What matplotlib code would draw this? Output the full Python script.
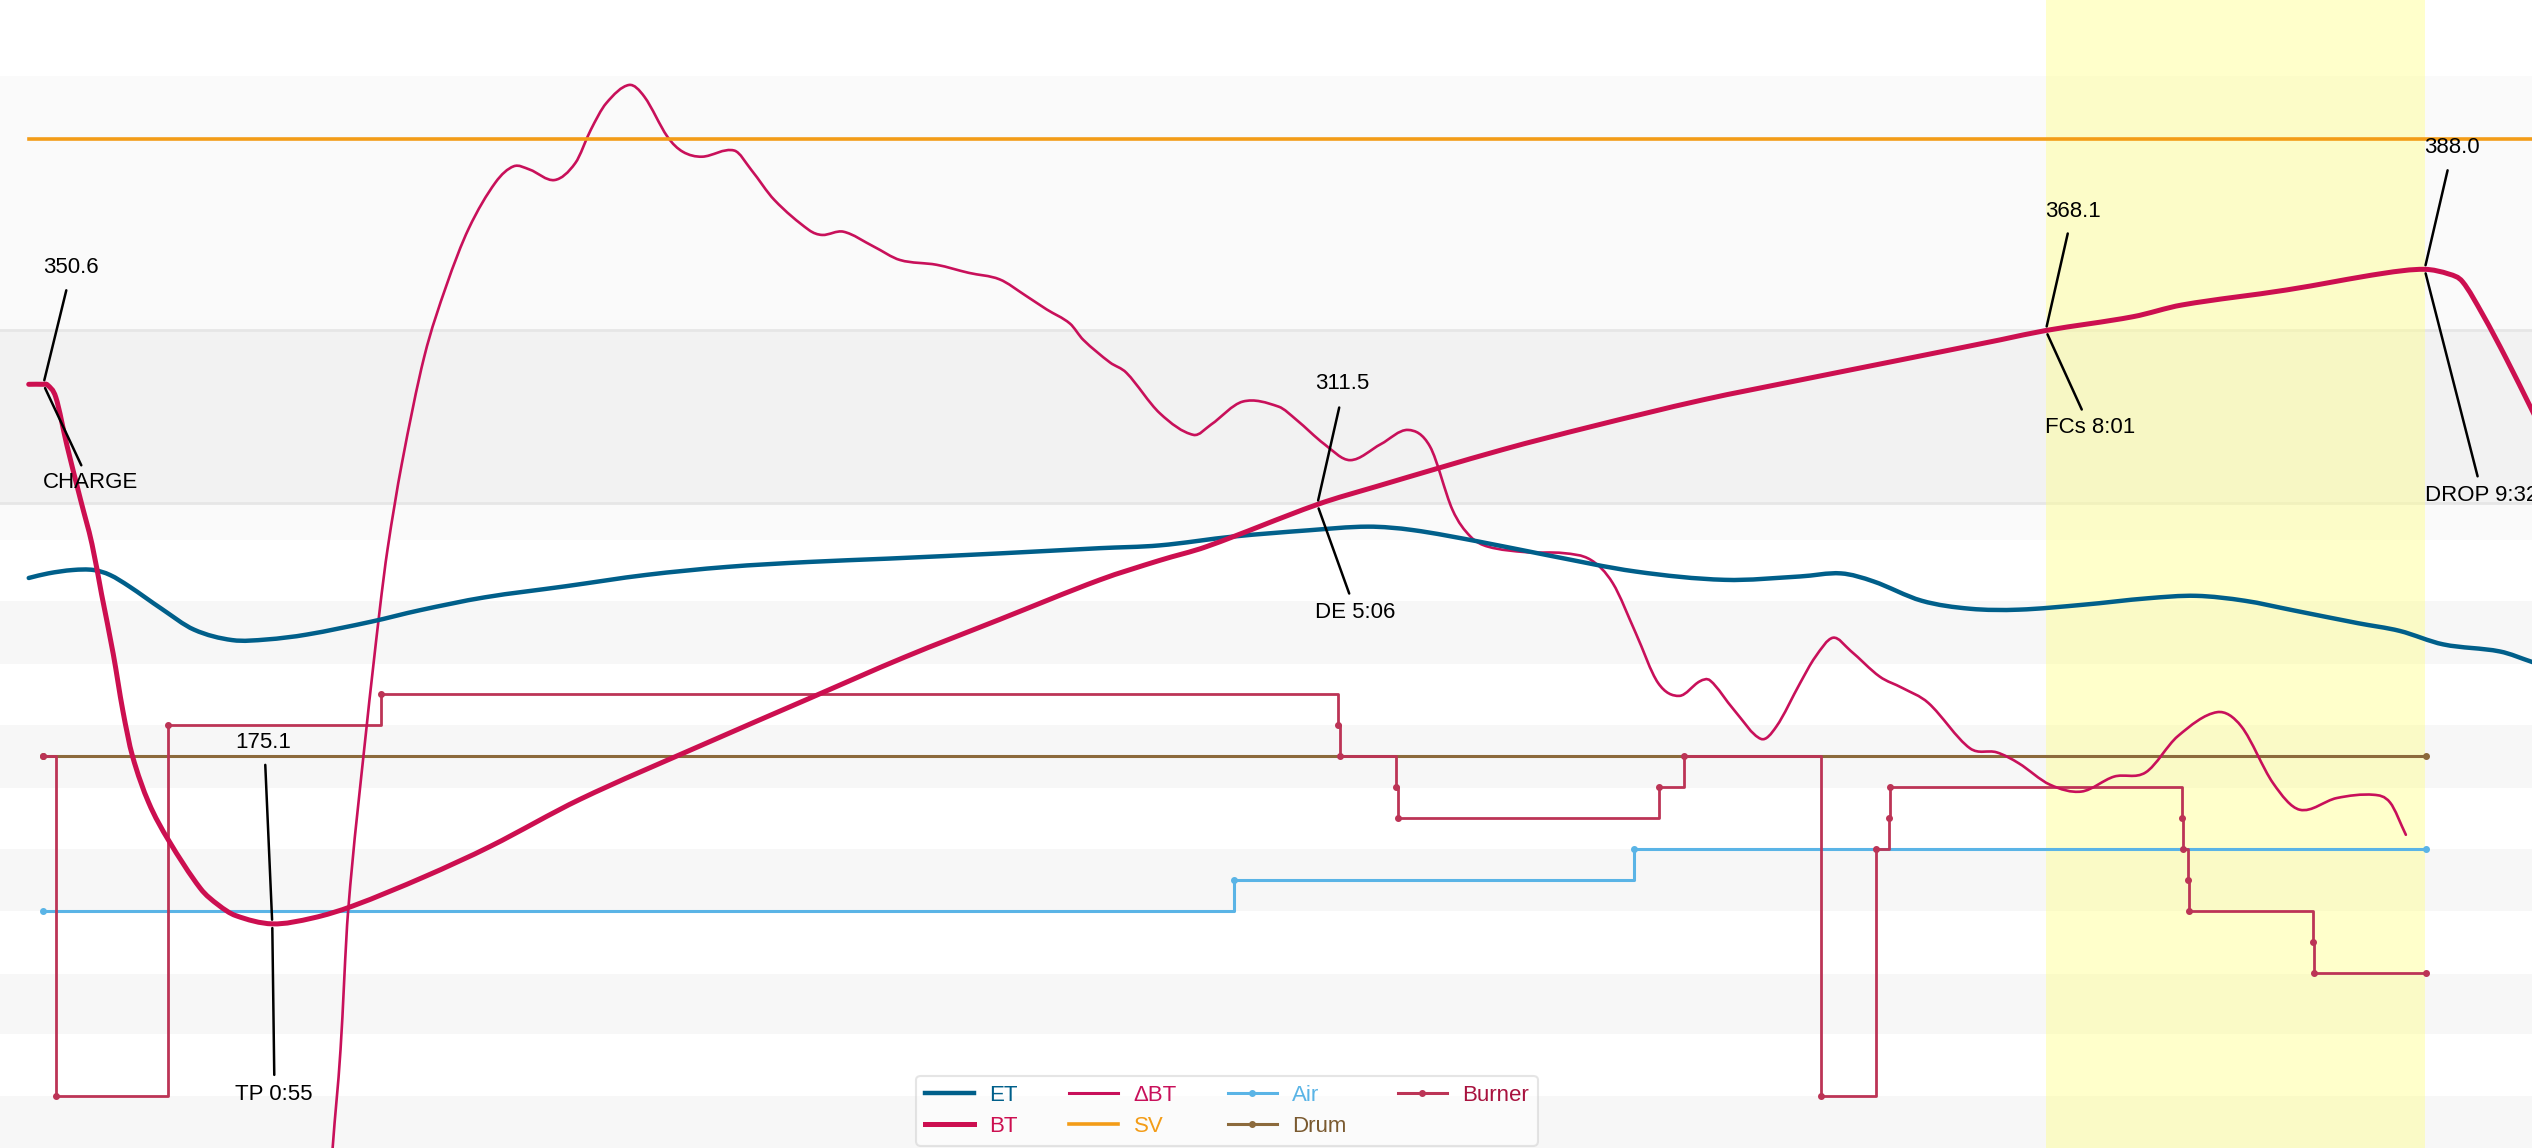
import matplotlib
matplotlib.use("Agg")
import matplotlib.pyplot as plt
from matplotlib.lines import Line2D
from matplotlib.path import Path
from matplotlib.patches import PathPatch

plt.rcParams['font.family'] = ['Liberation Sans', 'DejaVu Sans']

# ---------------- data ----------------
bt_time = [-3.5, 0, 1, 3, 5.7, 9, 11.7, 14, 16.8, 19.1, 21.4, 25.3, 30, 37.7, 42, 46.2, 55,
           64.7, 74.3, 91.5, 107.5, 128.9, 157.6, 183.6, 206.8, 229.7, 253.8, 268.1, 279.4,
           306, 320.3, 350.4, 371.7, 398.5, 422, 446, 470.2, 481, 502, 513.7, 538.9, 562.1,
           572, 578, 581.1, 586, 591.6, 597.8, 603]
bt_temp = [350.6, 350.6, 350.4, 346.4, 330.6, 312.8, 298.6, 282.3, 262.9, 244.5, 229.8, 214.6,
           202.5, 186.7, 181.3, 177.8, 175.1, 177.0, 180.9, 190.4, 200.4, 215.6, 232.9, 248.2,
           261.8, 274.1, 287.0, 293.3, 297.8, 311.5, 317.4, 329.3, 336.8, 345.5, 352.0, 358.5,
           365.1, 368.1, 372.6, 376.4, 381.3, 386.7, 388.0, 386.4, 384.0, 373.2, 359.0, 342.2,
           328.0]

et_time = [-3.5, 1.2, 7.1, 12.1, 16.0, 20.6, 28.4, 36.2, 45.4, 53.6, 63.3, 78.8, 90.4, 106.0,
           125.4, 144.8, 164.2, 183.6, 202.9, 229.7, 253.8, 268.1, 286.0, 303.8, 318.2, 328.9,
           345.0, 361.0, 382.5, 403.9, 422.0, 431.8, 439.6, 451.2, 462.8, 474.5, 490.0, 505.5,
           517.1, 528.8, 540.4, 556.0, 566.0, 576.5, 590.1, 597.8, 603]
et_temp = [287.6, 289.1, 290.2, 290.2, 288.6, 284.9, 277.6, 270.8, 267.4, 267.6, 269.2, 273.4,
           277.1, 281.3, 284.9, 288.6, 291.2, 292.8, 293.9, 295.6, 297.3, 298.2, 301.1, 303.1,
           304.3, 303.2, 299.4, 295.1, 289.7, 287.0, 288.1, 289.1, 286.5, 280.2, 277.6, 277.3,
           278.9, 281.0, 281.8, 280.2, 277.1, 272.9, 270.4, 266.0, 263.7, 260.3, 258.0]

ror_time = [68.3, 69.5, 71.4, 73.2, 77.5, 80.8, 82.7, 86.1, 91.5, 96.8, 102.2, 108.6, 113.0,
            116.8, 122.8, 127.8, 131.5, 135.2, 140.7, 144.4, 149.9, 153.6, 158.2, 166.0, 170.1,
            175.6, 183.9, 187.1, 192.2, 199.5, 205.8, 214.6, 222.3, 229.7, 235.9, 241.0, 246.6,
            249.8, 256.2, 260.2, 268.2, 276.3, 280.5, 288.1, 296.7, 301.0, 307.7, 313.9, 321.3,
            327.8, 333.1, 338.5, 342.8, 347.0, 356.2, 365.2, 371.7, 377.0, 382.5, 387.9, 393.0,
            397.9, 400.4, 406.1, 412.6, 416.3, 422.0, 425.6, 429.9, 434.1, 441.1, 446.5, 452.8,
            462.8, 469.2, 474.5, 482.0, 489.6, 497.4, 505.0, 512.7, 522.2, 528.0, 535.6, 542.0,
            550.9, 559.8, 563.7, 567.5]
ror_val = [-4.1, 0.0, 5.15, 12.32, 21.69, 28.10, 31.31, 35.74, 41.35, 45.06, 48.06, 50.46, 51.31,
           51.14, 50.59, 51.48, 53.21, 54.60, 55.56, 54.94, 52.86, 52.07, 51.81, 52.13, 51.11,
           49.55, 47.98, 47.72, 47.89, 47.11, 46.41, 46.16, 45.74, 45.40, 44.56, 43.83, 43.09,
           42.24, 41.06, 40.51, 38.40, 37.27, 37.81, 39.01, 38.75, 38.06, 36.79, 35.95, 36.79,
           37.53, 36.66, 33.35, 31.96, 31.43, 31.14, 31.09, 30.74, 29.52, 26.92, 24.30, 23.63,
           24.39, 24.43, 22.90, 21.38, 22.03, 24.30, 25.65, 26.67, 25.99, 24.64, 24.05, 23.26,
           20.89, 20.68, 20.11, 18.99, 18.63, 19.41, 19.63, 21.52, 22.78, 22.03, 19.07, 17.68,
           18.29, 18.46, 18.06, 16.37]

sv_time = [-3.5, 603]
sv_temp = [430.4, 430.4]

burner_time = [0, 3, 30, 81, 311, 311.5, 325, 325.5, 388, 394, 427, 440.3, 443.4, 443.6,
               513.7, 514, 515.2, 515.5, 545.1, 545.4, 572.3]
burner_val = [55, 0, 60, 65, 60, 55, 50, 45, 50, 55, 0, 40, 45, 50, 45, 40, 35, 30, 25, 20, 20]

air_time = [0, 286, 382.2, 572.3]
air_val = [30, 35, 40, 40]

drum_time = [0, 572.3]
drum_val = [55, 55]

event_time = [0, 55, 306, 481, 572]
event_temp = [350.6, 175.1, 311.5, 368.1, 388.0]
event_label = ['CHARGE', 'TP 0:55', 'DE 5:06', 'FCs 8:01', 'DROP 9:32']

legend_labels = ['ET', 'BT', 'ΔBT', 'SV', 'Air', 'Drum', 'Burner']

# ---------------- style ----------------
C_ET = '#005f8a'
C_BT = '#cc0f50'
C_ROR = '#c8105a'
C_SV = '#f39c17'
C_AIR = '#5ab4e6'
C_DRUM = '#8c6a3c'
C_BURN = '#bc3456'


def spline(ax, xs, ys, **kw):
    """Smooth (cubic Hermite) line drawn through the given data points."""
    n = len(xs)
    slopes = []
    for i in range(n):
        a, b = max(i - 1, 0), min(i + 1, n - 1)
        slopes.append((ys[b] - ys[a]) / (xs[b] - xs[a]))
    verts = [(xs[0], ys[0])]
    codes = [Path.MOVETO]
    for i in range(n - 1):
        h = xs[i + 1] - xs[i]
        verts += [(xs[i] + h / 3, ys[i] + slopes[i] * h / 3),
                  (xs[i + 1] - h / 3, ys[i + 1] - slopes[i + 1] * h / 3),
                  (xs[i + 1], ys[i + 1])]
        codes += [Path.CURVE4] * 3
    ax.add_patch(PathPatch(Path(verts, codes), fill=False, capstyle='round',
                           joinstyle='round', **kw))


W, H = 2532, 1148
fig = plt.figure(figsize=(W / 100, H / 100), dpi=100)
fig.patch.set_facecolor('white')

XLIM = (-10.4, 597.8)

# background bands (pixel space)
bg = fig.add_axes([0, 0, 1, 1])
bg.set_xlim(XLIM)
bg.set_ylim(H, 0)
bg.set_axis_off()
for (y0, y1, c) in [(76, 330, '#fafafa'), (330, 503, '#f2f2f2'), (503, 540, '#fafafa'),
                    (601, 664, '#f7f7f7'), (725, 788, '#f7f7f7'), (849, 911, '#f7f7f7'),
                    (974, 1034, '#f7f7f7'), (1096, 1148, '#f7f7f7')]:
    bg.axhspan(y0, y1, color=c, lw=0, zorder=0)
for y in (330, 503):
    bg.axhline(y, color='#e6e6e6', lw=2, zorder=0.5)
# FCs -> DROP development band
bg.axvspan(event_time[3], event_time[4], color=(1, 1, 0.55), alpha=0.45, lw=0, zorder=1)

# extras axis (Air, Drum, Burner)
ax_ex = fig.add_axes([0, 0, 1, 1], facecolor='none')
ax_ex.set_xlim(XLIM)
ax_ex.set_ylim(-8.34, 177.2)
ax_ex.set_axis_off()
ax_ex.plot(drum_time, drum_val, drawstyle='steps-post', color=C_DRUM, lw=2.2,
           marker='o', ms=4)
ax_ex.plot(air_time, air_val, drawstyle='steps-post', color=C_AIR, lw=2.2,
           marker='o', ms=4)
ax_ex.plot(burner_time, burner_val, drawstyle='steps-post', color=C_BURN, lw=2.0,
           marker='o', ms=4)

# RoR axis
ax_ror = ax_ex.twinx()
ax_ror.set_xlim(XLIM)
ax_ror.set_ylim(0, 60)
ax_ror.set_axis_off()
spline(ax_ror, ror_time, ror_val, edgecolor=C_ROR, lw=1.9)

# temperature axis
ax_t = ax_ex.twinx()
ax_t.set_xlim(XLIM)
ax_t.set_ylim(102.2, 475.6)
ax_t.set_axis_off()
ax_t.plot(sv_time, sv_temp, color=C_SV, lw=2.6)
spline(ax_t, et_time, et_temp, edgecolor=C_ET, lw=3.2)
spline(ax_t, bt_time, bt_temp, edgecolor=C_BT, lw=3.6)

# event annotations: (value label dx,dy), (up line end), (event label dx,dy), (down line end)
offsets = [
    ((0, 117), (23, 94), (0, -98), (38, -81)),
    ((-37, 181), (-7, 159), (-37, -171), (2, -151)),
    ((-2, 121), (22, 97), (-2, -108), (32, -89)),
    ((-1, 119), (22, 97), (-1, -97), (36, -79)),
    ((0, 122), (23, 99), (0, -226), (53, -207)),
]
for t, temp, lab, (vo, ue, eo, de) in zip(event_time, event_temp, event_label, offsets):
    ax_t.annotate(f'{temp:.1f}', xy=(t, temp), xytext=vo, textcoords='offset pixels',
                  ha='left', va='center', fontsize=16, color='black', annotation_clip=False)
    ax_t.annotate(lab, xy=(t, temp), xytext=eo, textcoords='offset pixels',
                  ha='left', va='center', fontsize=16, color='black', annotation_clip=False)
    ax_t.annotate('', xy=(t, temp), xytext=ue, textcoords='offset pixels',
                  arrowprops=dict(arrowstyle='-', color='black', lw=1.8, shrinkA=0, shrinkB=3),
                  annotation_clip=False)
    ax_t.annotate('', xy=(t, temp), xytext=de, textcoords='offset pixels',
                  arrowprops=dict(arrowstyle='-', color='black', lw=1.8, shrinkA=0, shrinkB=3),
                  annotation_clip=False)

# legend
handles = [
    Line2D([], [], color=C_ET, lw=3.2),
    Line2D([], [], color=C_BT, lw=3.6),
    Line2D([], [], color=C_ROR, lw=2.2),
    Line2D([], [], color=C_SV, lw=2.6),
    Line2D([], [], color=C_AIR, lw=2.2, marker='o', ms=4),
    Line2D([], [], color=C_DRUM, lw=2.2, marker='o', ms=4),
    Line2D([], [], color=C_BURN, lw=2.2, marker='o', ms=4),
]
label_colors = [C_ET, C_BT, C_ROR, C_SV, C_AIR, '#7a5a30', '#a8123e']
leg = fig.legend(handles, legend_labels, ncol=4, loc='lower center',
                 bbox_to_anchor=(0.4846, 0.002), fontsize=16, frameon=True,
                 handlelength=2.2, handletextpad=0.7, columnspacing=2.3,
                 labelspacing=0.45, borderpad=0.4, borderaxespad=0.0,
                 labelcolor=label_colors)
leg.get_frame().set_edgecolor('#d0d0d0')
leg.get_frame().set_linewidth(1.5)
leg.get_frame().set_facecolor('white')
leg.get_frame().set_alpha(0.55)

fig.savefig('out.png', dpi=100)
